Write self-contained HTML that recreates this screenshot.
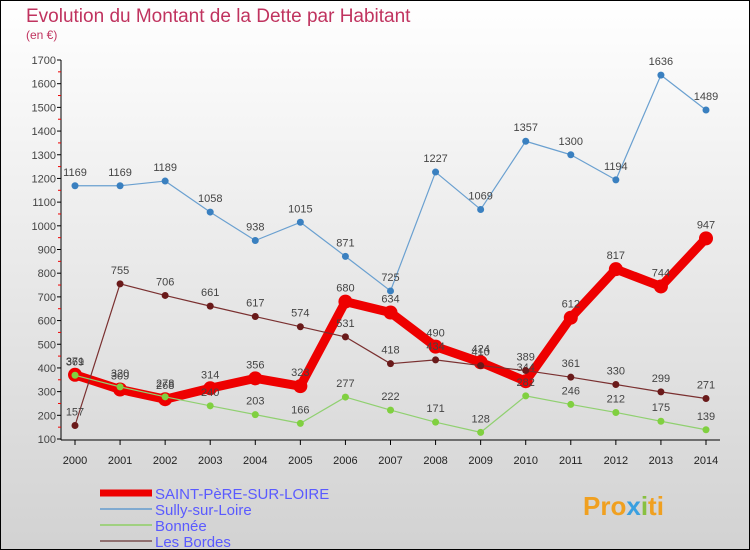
<!DOCTYPE html>
<html><head><meta charset="utf-8"><style>
body{margin:0}
#c{width:750px;height:550px;position:relative;overflow:hidden;font-family:"Liberation Sans",sans-serif}
</style></head><body>
<div id="c">
<svg id="s" width="750" height="550" xmlns="http://www.w3.org/2000/svg">
<defs><linearGradient id="bg" x1="0" y1="0" x2="0" y2="1"><stop offset="0" stop-color="#ffffff"/><stop offset="1" stop-color="#d2d2d2"/></linearGradient></defs>
<rect x="0" y="0" width="750" height="550" fill="url(#bg)" stroke="#000" stroke-width="2"/>
<text x="26" y="22" font-size="19" fill="#c0335f">Evolution du Montant de la Dette par Habitant</text>
<text x="26" y="39" font-size="12" fill="#c0335f">(en €)</text>
<g id="axes"></g><g id="series"></g><g id="legend"></g>
<text x="583" y="515" font-size="26" font-weight="bold" fill="#f0a020">Pro<tspan fill="#3aa0e0">x</tspan><tspan fill="#88c040">i</tspan>ti</text>
</svg>
</div>
<script>
const years=[2000,2001,2002,2003,2004,2005,2006,2007,2008,2009,2010,2011,2012,2013,2014];
const stPere=[371,309,268,314,356,323,680,634,490,424,344,612,817,744,947];
const sully=[1169,1169,1189,1058,938,1015,871,725,1227,1069,1357,1300,1194,1636,1489];
const bonnee=[369,320,278,240,203,166,277,222,171,128,282,246,212,175,139];
const bordes=[157,755,706,661,617,574,531,418,434,410,389,361,330,299,271];
const yTicks=[100,200,300,400,500,600,700,800,900,1000,1100,1200,1300,1400,1500,1600,1700];
const NS="http://www.w3.org/2000/svg";
const X=i=>75+i*(706-75)/14;
const Y=v=>439-(v-100)*(439-60)/1600;
function mk(t,a,p){const e=document.createElementNS(NS,t);for(const k in a)e.setAttribute(k,a[k]);p.appendChild(e);return e;}
const ax=document.getElementById('axes');
const yl=mk('line',{x1:61,y1:60,x2:61,y2:440,stroke:'#000'},ax);


const xl=mk('line',{x1:61,y1:440,x2:720,y2:440,stroke:'#000'},ax);


yTicks.forEach((v,i)=>{const y=Y(v);
 mk('line',{x1:57,y1:y,x2:61,y2:y,stroke:'#000'},ax);
 if(i<yTicks.length-1)mk('line',{x1:58,y1:Y(v+50),x2:61,y2:Y(v+50),stroke:'#e00'},ax);
 const t=mk('text',{x:56,y:y+4,'font-size':11,fill:'#444','text-anchor':'end'},ax);t.textContent=v;
 
 });
years.forEach((yr,i)=>{const x=X(i);
 mk('line',{x1:x,y1:440,x2:x,y2:445,stroke:'#000'},ax);
 const t=mk('text',{x:x,y:464,'font-size':11,fill:'#222','text-anchor':'middle'},ax);t.textContent=yr;
 
 });
const sg=document.getElementById('series');
function series(vals,col,w,r,dot,name){
 const g=mk('g',{},sg);
 
 
 mk('polyline',{points:vals.map((v,i)=>X(i)+','+Y(v)).join(' '),fill:'none',stroke:col,'stroke-width':w,'stroke-linejoin':'round'},g);
 vals.forEach((v,i)=>{const c=mk('circle',{cx:X(i),cy:Y(v),r:r,fill:dot},g);
  
  
  const t=mk('text',{x:X(i),y:Y(v)-10,'font-size':11,fill:'#444','text-anchor':'middle'},g);t.textContent=v;
  
  });
}
series(sully,'#6aa0d0',1.2,3.5,'#3a80c0','sully-series');
series(stPere,'#ee0000',9,7,'#ee0000','saint-pere-series');
series(bordes,'#7a3030',1.2,3.5,'#6a1a1a','les-bordes-series');
series(bonnee,'#90d070',1.2,3.5,'#80d040','bonnee-series');
const lg=document.getElementById('legend');
const items=[['SAINT-PèRE-SUR-LOIRE','#ee0000',7],['Sully-sur-Loire','#80aad0',2],['Bonnée','#a0d080',2],['Les Bordes','#907070',2]];
items.forEach((it,i)=>{const y=493+i*16;
 const g=mk('g',{},lg);
 
 
 mk('line',{x1:100,y1:y,x2:152,y2:y,stroke:it[1],'stroke-width':it[2]},g);
 const t=mk('text',{x:155,y:y+6,'font-size':15,fill:'#5a5aff'},g);t.textContent=it[0];});
</script>
</body></html>
